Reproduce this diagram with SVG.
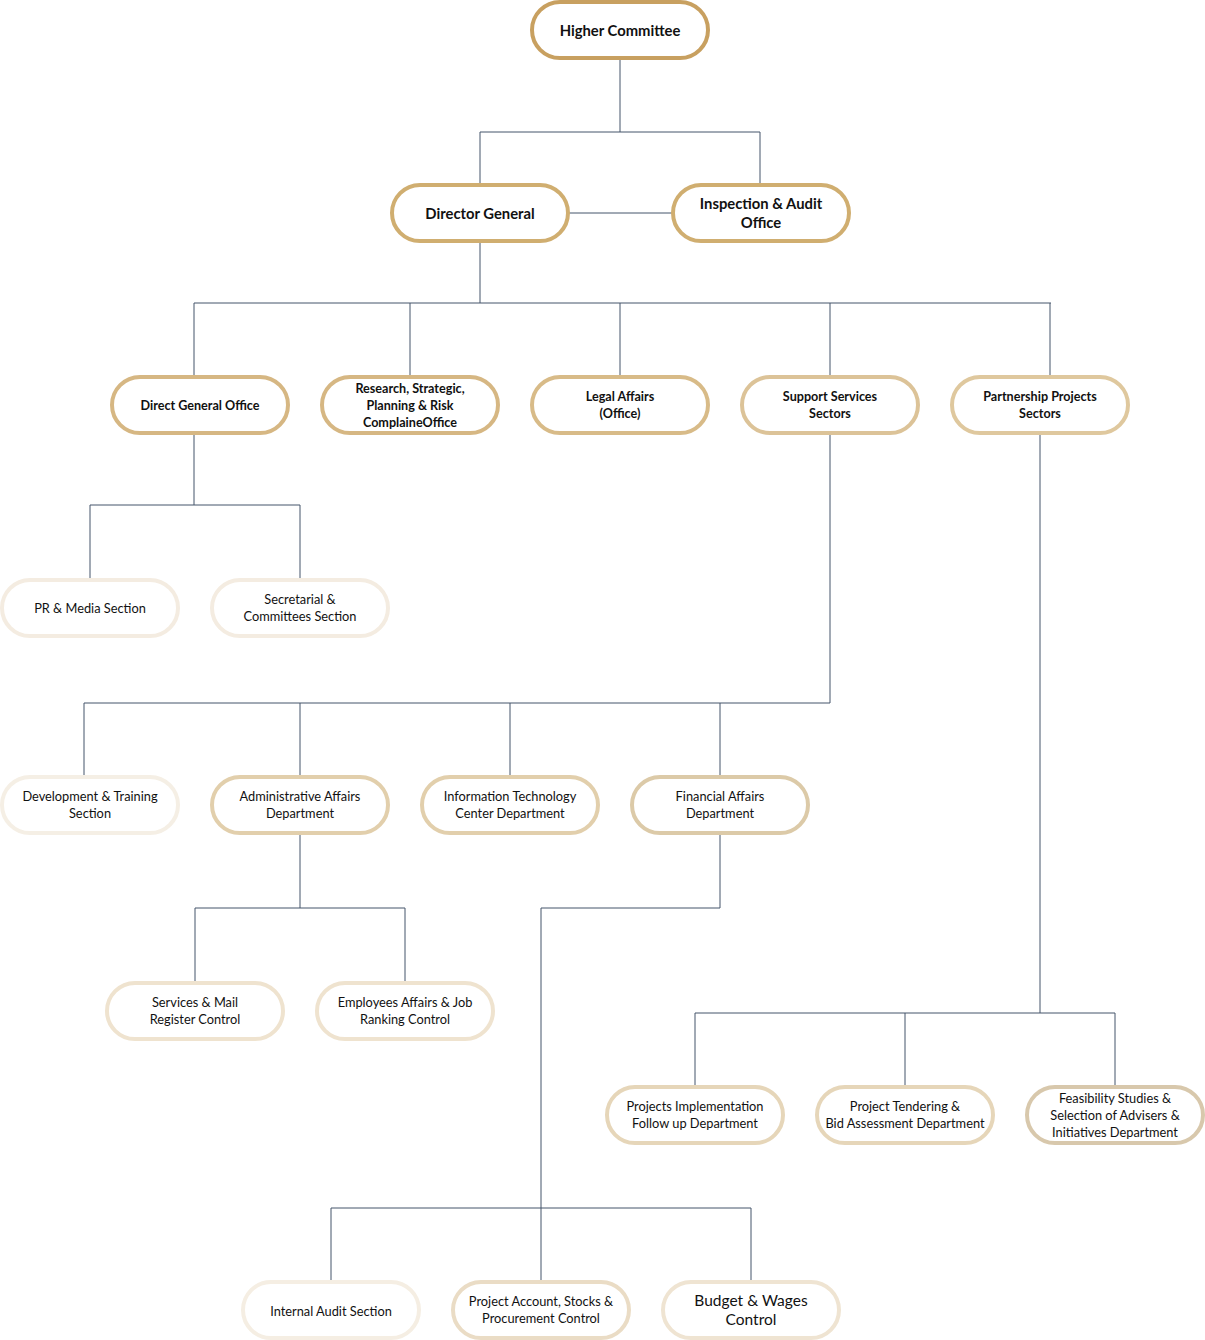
<svg xmlns="http://www.w3.org/2000/svg" width="1205" height="1340" viewBox="0 0 1205 1340">
<style>
.n rect{fill:#ffffff;stroke-width:4;}
.t{font-family:Lato,"Liberation Sans",sans-serif;font-size:12.8px;fill:#111111;text-anchor:middle;}
.b{font-weight:bold;font-size:12.6px;}
.h{font-size:14.8px;}
.g{font-size:15.5px;}
.c{fill:none;stroke:#44546a;stroke-width:1;}
</style>
<rect width="1205" height="1340" fill="#ffffff"/>
<g id="connectors" class="c">
<path d="M620 58V132M480 132H760M480 132V185M760 132V185"/>
<path d="M568 213H673"/>
<path d="M480 241V303M194 303H1051M194 303V377M410 303V377M620 303V377M830 303V377M1050 303V377"/>
<path d="M194 433V505M90 505H300M90 505V580M300 505V580"/>
<path d="M830 433V703M84 703H830M84 703V777M300 703V777M510 703V777M720 703V777"/>
<path d="M300 833V908M195 908H405M195 908V983M405 908V983"/>
<path d="M720 833V908H541V1208M331 1208H751M331 1208V1282M541 1208V1282M751 1208V1282"/>
<path d="M1040 433V1013M695 1013H1115M695 1013V1087M905 1013V1087M1115 1013V1087"/>
</g>
<g id="higher-committee" class="n"><rect x="532" y="2" width="176" height="56" rx="28" stroke="#c8a060"/><text class="t b h" x="620" y="36">Higher Committee</text></g>
<g id="director-general" class="n"><rect x="392" y="185" width="176" height="56" rx="28" stroke="#d0ae70"/><text class="t b h" x="480" y="219">Director General</text></g>
<g id="inspection-audit" class="n"><rect x="673" y="185" width="176" height="56" rx="28" stroke="#d0ae70"/><text class="t b h" x="761" y="209">Inspection &amp; Audit</text><text class="t b h" x="761" y="228">Office</text></g>
<g id="direct-general-office" class="n"><rect x="112" y="377" width="176" height="56" rx="28" stroke="#d6b783"/><text class="t b" x="200" y="410">Direct General Office</text></g>
<g id="research-office" class="n"><rect x="322" y="377" width="176" height="56" rx="28" stroke="#d6b783"/><text class="t b" x="410" y="393">Research, Strategic,</text><text class="t b" x="410" y="410">Planning &amp; Risk</text><text class="t b" x="410" y="427">ComplaineOffice</text></g>
<g id="legal-affairs" class="n"><rect x="532" y="377" width="176" height="56" rx="28" stroke="#d8bb88"/><text class="t b" x="620" y="401">Legal Affairs</text><text class="t b" x="620" y="418">(Office)</text></g>
<g id="support-services" class="n"><rect x="742" y="377" width="176" height="56" rx="28" stroke="#dcc398"/><text class="t b" x="830" y="401">Support Services</text><text class="t b" x="830" y="418">Sectors</text></g>
<g id="partnership-projects" class="n"><rect x="952" y="377" width="176" height="56" rx="28" stroke="#dfc89e"/><text class="t b" x="1040" y="401">Partnership Projects</text><text class="t b" x="1040" y="418">Sectors</text></g>
<g id="pr-media" class="n"><rect x="2" y="580" width="176" height="56" rx="28" stroke="#f4ece1"/><text class="t" x="90" y="613">PR &amp; Media Section</text></g>
<g id="secretarial" class="n"><rect x="212" y="580" width="176" height="56" rx="28" stroke="#f4ece1"/><text class="t" x="300" y="604">Secretarial &amp;</text><text class="t" x="300" y="621">Committees Section</text></g>
<g id="development-training" class="n"><rect x="2" y="777" width="176" height="56" rx="28" stroke="#f5efe5"/><text class="t" x="90" y="801">Development &amp; Training</text><text class="t" x="90" y="818">Section</text></g>
<g id="administrative-affairs" class="n"><rect x="212" y="777" width="176" height="56" rx="28" stroke="#e2cfac"/><text class="t" x="300" y="801">Administrative Affairs</text><text class="t" x="300" y="818">Department</text></g>
<g id="information-technology" class="n"><rect x="422" y="777" width="176" height="56" rx="28" stroke="#e2cfac"/><text class="t" x="510" y="801">Information Technology</text><text class="t" x="510" y="818">Center Department</text></g>
<g id="financial-affairs" class="n"><rect x="632" y="777" width="176" height="56" rx="28" stroke="#dccaa8"/><text class="t" x="720" y="801">Financial Affairs</text><text class="t" x="720" y="818">Department</text></g>
<g id="services-mail" class="n"><rect x="107" y="983" width="176" height="56" rx="28" stroke="#efe3cf"/><text class="t" x="195" y="1007">Services &amp; Mail</text><text class="t" x="195" y="1024">Register Control</text></g>
<g id="employees-affairs" class="n"><rect x="317" y="983" width="176" height="56" rx="28" stroke="#efe3cf"/><text class="t" x="405" y="1007">Employees Affairs &amp; Job</text><text class="t" x="405" y="1024">Ranking Control</text></g>
<g id="projects-implementation" class="n"><rect x="607" y="1087" width="176" height="56" rx="28" stroke="#e6d6b9"/><text class="t" x="695" y="1111">Projects Implementation</text><text class="t" x="695" y="1128">Follow up Department</text></g>
<g id="project-tendering" class="n"><rect x="817" y="1087" width="176" height="56" rx="28" stroke="#e6d6b9"/><text class="t" x="905" y="1111">Project Tendering &amp;</text><text class="t" x="905" y="1128">Bid Assessment Department</text></g>
<g id="feasibility-studies" class="n"><rect x="1027" y="1087" width="176" height="56" rx="28" stroke="#d8c8ac"/><text class="t" x="1115" y="1103">Feasibility Studies &amp;</text><text class="t" x="1115" y="1120">Selection of Advisers &amp;</text><text class="t" x="1115" y="1137">Initiatives Department</text></g>
<g id="internal-audit" class="n"><rect x="243" y="1282" width="176" height="56" rx="28" stroke="#f5eee3"/><text class="t" x="331" y="1316">Internal Audit Section</text></g>
<g id="project-account" class="n"><rect x="453" y="1282" width="176" height="56" rx="28" stroke="#eadcc5"/><text class="t" x="541" y="1306">Project Account, Stocks &amp;</text><text class="t" x="541" y="1323">Procurement Control</text></g>
<g id="budget-wages" class="n"><rect x="663" y="1282" width="176" height="56" rx="28" stroke="#efe4d2"/><text class="t g" x="751" y="1306">Budget &amp; Wages</text><text class="t g" x="751" y="1325">Control</text></g>
</svg>
